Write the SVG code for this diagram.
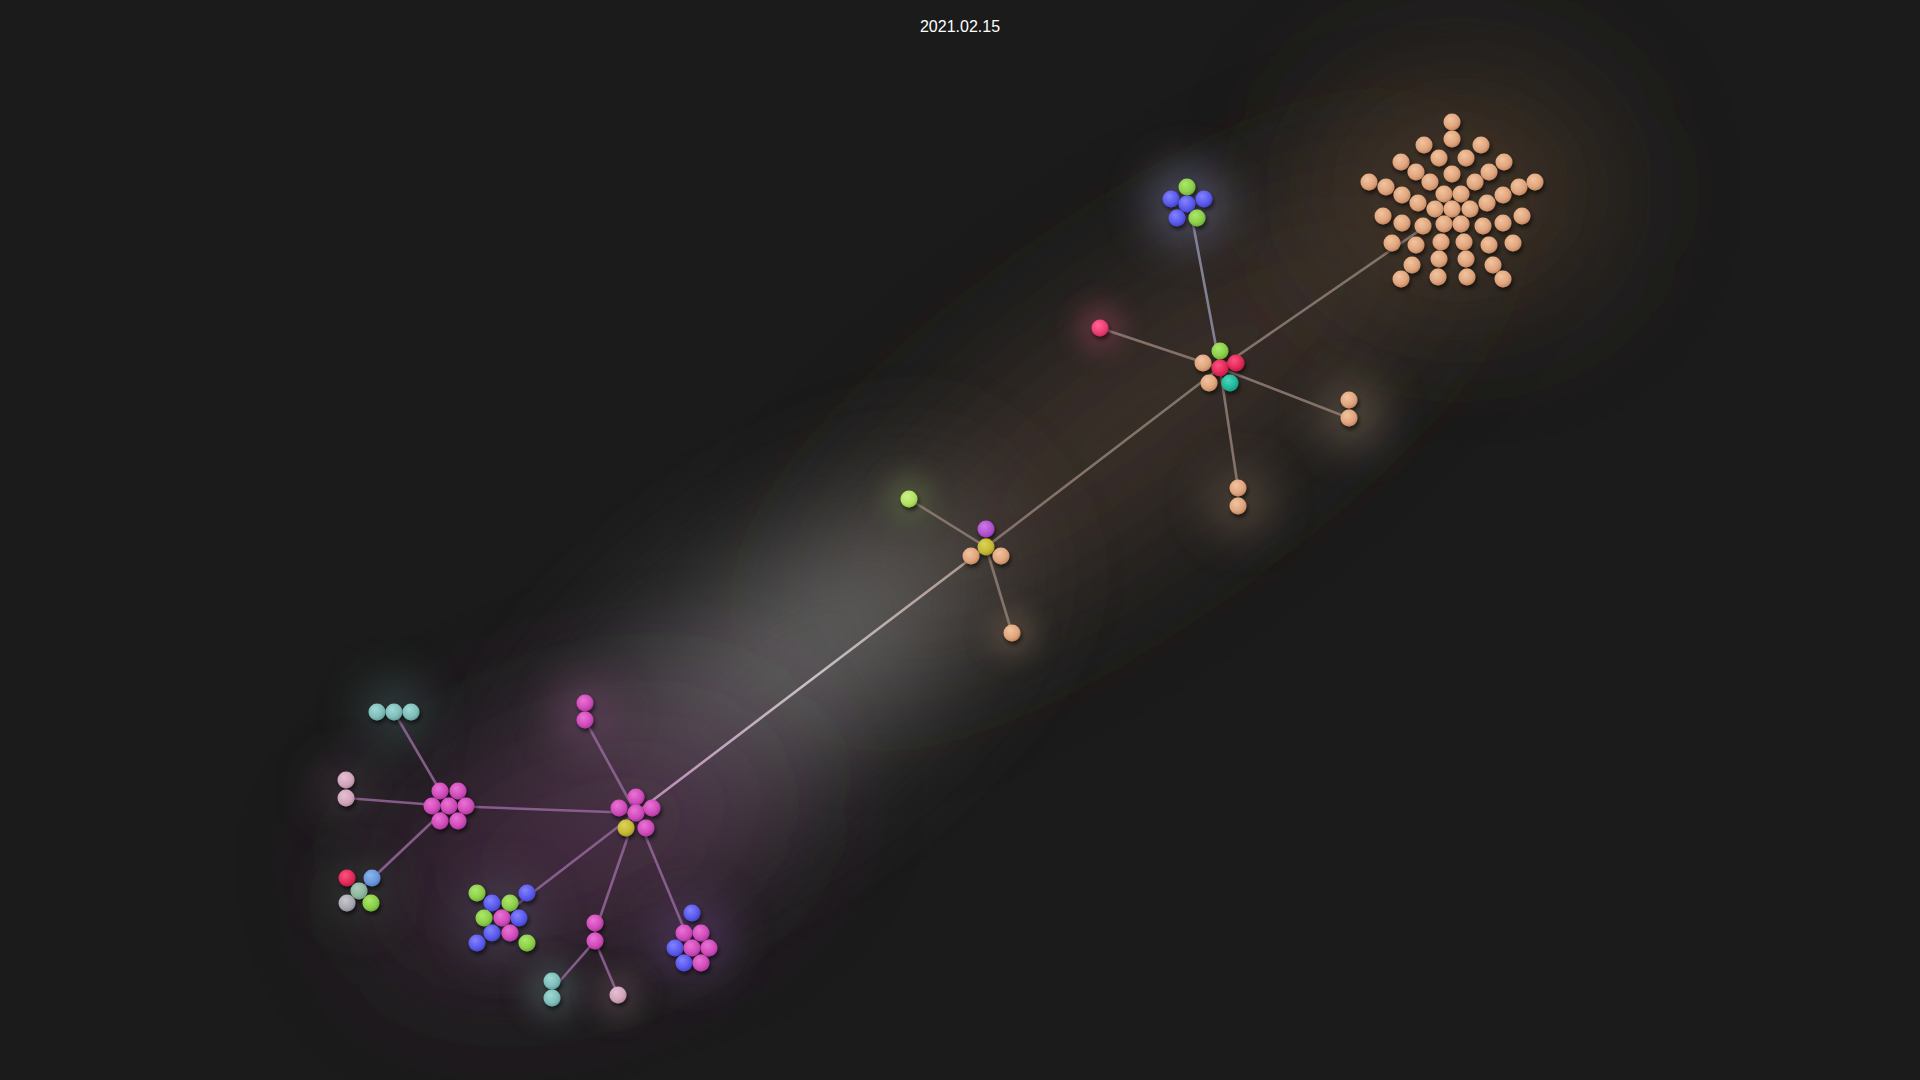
<svg xmlns="http://www.w3.org/2000/svg" width="1920" height="1080" viewBox="0 0 1920 1080">
<defs>
<style>
.bg{fill:#1b1b1b}
.edge{fill:none;stroke-width:2.6;stroke-linecap:round}
.em{stroke:#94669a;stroke-opacity:.85}
.ew{stroke:#8c7a70;stroke-opacity:.9}
.eb{stroke:#8a8aa0;stroke-opacity:.9}
.node{filter:url(#ds)}
.o{fill:url(#go)}.m{fill:url(#gm)}.b{fill:url(#gb)}.g{fill:url(#gg)}.t{fill:url(#gt)}
.pl{fill:url(#gpl)}.r{fill:url(#gr)}.hp{fill:url(#ghp)}.y{fill:url(#gy)}.p{fill:url(#gp)}
.l{fill:url(#gl)}.tb{fill:url(#gtb)}.gy{fill:url(#ggy)}.gn{fill:url(#ggn)}.sb{fill:url(#gsb)}
.date{font-family:"Liberation Sans",Arial,sans-serif;font-size:16px;fill:#ffffff}
</style>
<filter id="ds" x="-50%" y="-50%" width="200%" height="200%">
<feDropShadow dx="1.5" dy="3" stdDeviation="2" flood-color="#000" flood-opacity="0.6"/>
</filter>
<filter id="big" filterUnits="userSpaceOnUse" x="0" y="0" width="1920" height="1080"><feGaussianBlur stdDeviation="70"/></filter>
<filter id="mid" filterUnits="userSpaceOnUse" x="0" y="0" width="1920" height="1080"><feGaussianBlur stdDeviation="22"/></filter>
<filter id="sm" filterUnits="userSpaceOnUse" x="0" y="0" width="1920" height="1080"><feGaussianBlur stdDeviation="12"/></filter>
<radialGradient id="go" cx="0.42" cy="0.38" r="0.62" fx="0.38" fy="0.32"><stop offset="0" stop-color="#f2c4a0"/><stop offset="0.7" stop-color="#e0a67e"/><stop offset="1" stop-color="#c48862"/></radialGradient>
<radialGradient id="gm" cx="0.42" cy="0.38" r="0.62" fx="0.38" fy="0.32"><stop offset="0" stop-color="#ea74d6"/><stop offset="0.7" stop-color="#d24cbc"/><stop offset="1" stop-color="#b03a9e"/></radialGradient>
<radialGradient id="gb" cx="0.42" cy="0.38" r="0.62" fx="0.38" fy="0.32"><stop offset="0" stop-color="#8484fc"/><stop offset="0.7" stop-color="#5a5aee"/><stop offset="1" stop-color="#4646cc"/></radialGradient>
<radialGradient id="gg" cx="0.42" cy="0.38" r="0.62" fx="0.38" fy="0.32"><stop offset="0" stop-color="#ade86c"/><stop offset="0.7" stop-color="#8ccf4a"/><stop offset="1" stop-color="#70b034"/></radialGradient>
<radialGradient id="gt" cx="0.42" cy="0.38" r="0.62" fx="0.38" fy="0.32"><stop offset="0" stop-color="#a2d8d4"/><stop offset="0.7" stop-color="#80bfbc"/><stop offset="1" stop-color="#67a3a0"/></radialGradient>
<radialGradient id="gpl" cx="0.42" cy="0.38" r="0.62" fx="0.38" fy="0.32"><stop offset="0" stop-color="#e6c0d4"/><stop offset="0.7" stop-color="#d2a6bc"/><stop offset="1" stop-color="#b68ca2"/></radialGradient>
<radialGradient id="gr" cx="0.42" cy="0.38" r="0.62" fx="0.38" fy="0.32"><stop offset="0" stop-color="#ff5480"/><stop offset="0.7" stop-color="#e22a5a"/><stop offset="1" stop-color="#c01c48"/></radialGradient>
<radialGradient id="ghp" cx="0.42" cy="0.38" r="0.62" fx="0.38" fy="0.32"><stop offset="0" stop-color="#ff6894"/><stop offset="0.7" stop-color="#ee3e78"/><stop offset="1" stop-color="#cc2c60"/></radialGradient>
<radialGradient id="gy" cx="0.42" cy="0.38" r="0.62" fx="0.38" fy="0.32"><stop offset="0" stop-color="#dcd45a"/><stop offset="0.7" stop-color="#c6b934"/><stop offset="1" stop-color="#a89c24"/></radialGradient>
<radialGradient id="gp" cx="0.42" cy="0.38" r="0.62" fx="0.38" fy="0.32"><stop offset="0" stop-color="#cc7ae4"/><stop offset="0.7" stop-color="#b452d2"/><stop offset="1" stop-color="#9440b4"/></radialGradient>
<radialGradient id="gl" cx="0.42" cy="0.38" r="0.62" fx="0.38" fy="0.32"><stop offset="0" stop-color="#cef28a"/><stop offset="0.7" stop-color="#b4e262"/><stop offset="1" stop-color="#98c848"/></radialGradient>
<radialGradient id="gtb" cx="0.42" cy="0.38" r="0.62" fx="0.38" fy="0.32"><stop offset="0" stop-color="#4cd6bc"/><stop offset="0.7" stop-color="#22b89c"/><stop offset="1" stop-color="#189a80"/></radialGradient>
<radialGradient id="ggy" cx="0.42" cy="0.38" r="0.62" fx="0.38" fy="0.32"><stop offset="0" stop-color="#c8c8ce"/><stop offset="0.7" stop-color="#a9a9b0"/><stop offset="1" stop-color="#8e8e9c"/></radialGradient>
<radialGradient id="ggn" cx="0.42" cy="0.38" r="0.62" fx="0.38" fy="0.32"><stop offset="0" stop-color="#aacebc"/><stop offset="0.7" stop-color="#90b6a0"/><stop offset="1" stop-color="#789e88"/></radialGradient>
<radialGradient id="gsb" cx="0.42" cy="0.38" r="0.62" fx="0.38" fy="0.32"><stop offset="0" stop-color="#8cb6ee"/><stop offset="0.7" stop-color="#6a98dc"/><stop offset="1" stop-color="#5480c4"/></radialGradient>
<linearGradient id="mainline" gradientUnits="userSpaceOnUse" x1="636" y1="813" x2="986" y2="547"><stop offset="0" stop-color="#b88ab4"/><stop offset="0.5" stop-color="#c8c0c4"/><stop offset="1" stop-color="#a89488"/></linearGradient>
</defs>

<rect class="bg" x="0" y="0" width="1920" height="1080"/>

<g id="glows">
<ellipse cx="1130" cy="420" rx="390" ry="100" fill="#3c322b" opacity="0.95" transform="rotate(-36 1130 420)" filter="url(#big)"/>
<ellipse cx="1460" cy="190" rx="140" ry="110" fill="#4c3b2c" opacity="0.85" filter="url(#big)"/>
<ellipse cx="770" cy="680" rx="250" ry="85" fill="#727272" opacity="0.9" transform="rotate(-37 770 680)" filter="url(#big)"/>
<ellipse cx="580" cy="840" rx="210" ry="105" fill="#4a2a44" opacity="0.85" transform="rotate(-20 580 840)" filter="url(#big)"/>
<circle cx="1188" cy="205" r="40" fill="#6a6a88" opacity="0.6" filter="url(#mid)"/>
<circle cx="1100" cy="328" r="24" fill="#7a3a4a" opacity="0.6" filter="url(#sm)"/>
<circle cx="1352" cy="414" r="32" fill="#7a6a58" opacity="0.6" filter="url(#mid)"/>
<circle cx="1240" cy="502" r="32" fill="#6a5a4a" opacity="0.6" filter="url(#mid)"/>
<circle cx="909" cy="499" r="24" fill="#5a6a40" opacity="0.55" filter="url(#sm)"/>
<circle cx="1012" cy="633" r="24" fill="#6a5a4a" opacity="0.5" filter="url(#sm)"/>
<circle cx="585" cy="712" r="30" fill="#7a4a72" opacity="0.55" filter="url(#mid)"/>
<circle cx="394" cy="712" r="34" fill="#3e5654" opacity="0.55" filter="url(#mid)"/>
<circle cx="346" cy="789" r="28" fill="#4e4048" opacity="0.55" filter="url(#mid)"/>
<circle cx="359" cy="891" r="32" fill="#3e4440" opacity="0.55" filter="url(#mid)"/>
<circle cx="502" cy="918" r="42" fill="#484858" opacity="0.55" filter="url(#mid)"/>
<circle cx="692" cy="940" r="40" fill="#5a3a6a" opacity="0.65" filter="url(#mid)"/>
<circle cx="552" cy="990" r="28" fill="#4a5a5a" opacity="0.55" filter="url(#sm)"/>
<circle cx="618" cy="995" r="24" fill="#5a4850" opacity="0.55" filter="url(#sm)"/>
</g>

<g id="connectors">
<line class="edge ew" x1="1423" y1="228" x2="1220" y2="368"/>
<line class="edge eb" x1="1192" y1="218" x2="1220" y2="368"/>
<line class="edge ew" x1="1100" y1="328" x2="1220" y2="368"/>
<line class="edge ew" x1="1220" y1="368" x2="1349" y2="418"/>
<line class="edge ew" x1="1220" y1="368" x2="1238" y2="488"/>
<line class="edge ew" x1="1220" y1="368" x2="986" y2="547"/>
<line class="edge ew" x1="909" y1="499" x2="986" y2="547"/>
<line class="edge ew" x1="986" y1="547" x2="1012" y2="633"/>
<line class="edge" stroke="url(#mainline)" x1="636" y1="813" x2="986" y2="547"/>
<line class="edge em" x1="636" y1="813" x2="449" y2="806"/>
<line class="edge em" x1="636" y1="813" x2="585" y2="720"/>
<line class="edge em" x1="636" y1="813" x2="510" y2="910"/>
<line class="edge em" x1="636" y1="813" x2="595" y2="932"/>
<line class="edge em" x1="636" y1="813" x2="692" y2="948"/>
<line class="edge em" x1="595" y1="941" x2="552" y2="990"/>
<line class="edge em" x1="595" y1="941" x2="618" y2="995"/>
<line class="edge em" x1="449" y1="806" x2="394" y2="712"/>
<line class="edge em" x1="449" y1="806" x2="346" y2="798"/>
<line class="edge em" x1="449" y1="806" x2="359" y2="891"/>
</g>

<g id="n-orange-cluster" class="node">
<circle class="o" cx="1452" cy="122" r="8.5"/><circle class="o" cx="1452" cy="139" r="8.5"/>
<circle class="o" cx="1424" cy="145" r="8.5"/><circle class="o" cx="1481" cy="145" r="8.5"/>
<circle class="o" cx="1401" cy="162" r="8.5"/><circle class="o" cx="1439" cy="158" r="8.5"/><circle class="o" cx="1466" cy="158" r="8.5"/><circle class="o" cx="1504" cy="162" r="8.5"/>
<circle class="o" cx="1416" cy="172" r="8.5"/><circle class="o" cx="1452" cy="174" r="8.5"/><circle class="o" cx="1489" cy="172" r="8.5"/>
<circle class="o" cx="1369" cy="182" r="8.5"/><circle class="o" cx="1386" cy="187" r="8.5"/><circle class="o" cx="1430" cy="182" r="8.5"/><circle class="o" cx="1475" cy="182" r="8.5"/><circle class="o" cx="1519" cy="187" r="8.5"/><circle class="o" cx="1535" cy="182" r="8.5"/>
<circle class="o" cx="1402" cy="195" r="8.5"/><circle class="o" cx="1444" cy="194" r="8.5"/><circle class="o" cx="1461" cy="194" r="8.5"/><circle class="o" cx="1503" cy="195" r="8.5"/>
<circle class="o" cx="1418" cy="203" r="8.5"/><circle class="o" cx="1435" cy="209" r="8.5"/><circle class="o" cx="1452" cy="209" r="8.5"/><circle class="o" cx="1470" cy="209" r="8.5"/><circle class="o" cx="1487" cy="203" r="8.5"/>
<circle class="o" cx="1383" cy="216" r="8.5"/><circle class="o" cx="1522" cy="216" r="8.5"/>
<circle class="o" cx="1402" cy="223" r="8.5"/><circle class="o" cx="1423" cy="226" r="8.5"/><circle class="o" cx="1444" cy="224" r="8.5"/><circle class="o" cx="1461" cy="224" r="8.5"/><circle class="o" cx="1483" cy="226" r="8.5"/><circle class="o" cx="1503" cy="223" r="8.5"/>
<circle class="o" cx="1392" cy="243" r="8.5"/><circle class="o" cx="1416" cy="245" r="8.5"/><circle class="o" cx="1441" cy="242" r="8.5"/><circle class="o" cx="1464" cy="242" r="8.5"/><circle class="o" cx="1489" cy="245" r="8.5"/><circle class="o" cx="1513" cy="243" r="8.5"/>
<circle class="o" cx="1412" cy="265" r="8.5"/><circle class="o" cx="1439" cy="259" r="8.5"/><circle class="o" cx="1466" cy="259" r="8.5"/><circle class="o" cx="1493" cy="265" r="8.5"/>
<circle class="o" cx="1401" cy="279" r="8.5"/><circle class="o" cx="1438" cy="277" r="8.5"/><circle class="o" cx="1467" cy="277" r="8.5"/><circle class="o" cx="1503" cy="279" r="8.5"/>
</g>

<g id="n-blue-cluster" class="node">
<circle class="g" cx="1187" cy="187" r="8.5"/>
<circle class="b" cx="1171" cy="199" r="8.5"/><circle class="b" cx="1204" cy="199" r="8.5"/>
<circle class="b" cx="1187" cy="204" r="8.5"/>
<circle class="b" cx="1177" cy="218" r="8.5"/><circle class="g" cx="1197" cy="218" r="8.5"/>
</g>

<g id="n-pink" class="node"><circle class="hp" cx="1100" cy="328" r="8.5"/></g>

<g id="n-hub" class="node">
<circle class="g" cx="1220" cy="351" r="8.5"/>
<circle class="o" cx="1203" cy="363" r="8.5"/><circle class="r" cx="1236" cy="363" r="8.5"/>
<circle class="r" cx="1220" cy="368" r="8.5"/>
<circle class="o" cx="1209" cy="383" r="8.5"/><circle class="tb" cx="1230" cy="383" r="8.5"/>
</g>

<g id="n-right-pair" class="node"><circle class="o" cx="1349" cy="400" r="8.5"/><circle class="o" cx="1349" cy="418" r="8.5"/></g>
<g id="n-bottom-pair" class="node"><circle class="o" cx="1238" cy="488" r="8.5"/><circle class="o" cx="1238" cy="506" r="8.5"/></g>

<g id="n-lime" class="node"><circle class="l" cx="909" cy="499" r="8.5"/></g>
<g id="n-mid" class="node">
<circle class="p" cx="986" cy="529" r="8.5"/>
<circle class="y" cx="986" cy="547" r="8.5"/>
<circle class="o" cx="971" cy="556" r="8.5"/><circle class="o" cx="1001" cy="556" r="8.5"/>
</g>
<g id="n-mid-orange" class="node"><circle class="o" cx="1012" cy="633" r="8.5"/></g>

<g id="n-top-magenta-pair" class="node"><circle class="m" cx="585" cy="703" r="8.5"/><circle class="m" cx="585" cy="720" r="8.5"/></g>

<g id="n-cluster-b" class="node">
<circle class="m" cx="636" cy="797" r="8.5"/>
<circle class="m" cx="619" cy="808" r="8.5"/><circle class="m" cx="652" cy="808" r="8.5"/>
<circle class="m" cx="636" cy="813" r="8.5"/>
<circle class="y" cx="626" cy="828" r="8.5"/><circle class="m" cx="646" cy="828" r="8.5"/>
</g>

<g id="n-teal-trio" class="node"><circle class="t" cx="377" cy="712" r="8.5"/><circle class="t" cx="394" cy="712" r="8.5"/><circle class="t" cx="411" cy="712" r="8.5"/></g>
<g id="n-pink-pair" class="node"><circle class="pl" cx="346" cy="780" r="8.5"/><circle class="pl" cx="346" cy="798" r="8.5"/></g>

<g id="n-cluster-a" class="node">
<circle class="m" cx="440" cy="791" r="8.5"/><circle class="m" cx="458" cy="791" r="8.5"/>
<circle class="m" cx="432" cy="806" r="8.5"/><circle class="m" cx="449" cy="806" r="8.5"/><circle class="m" cx="466" cy="806" r="8.5"/>
<circle class="m" cx="440" cy="821" r="8.5"/><circle class="m" cx="458" cy="821" r="8.5"/>
</g>

<g id="n-cluster-c" class="node">
<circle class="r" cx="347" cy="878" r="8.5"/><circle class="sb" cx="372" cy="878" r="8.5"/>
<circle class="gn" cx="359" cy="891" r="8.5"/>
<circle class="gy" cx="347" cy="903" r="8.5"/><circle class="g" cx="371" cy="903" r="8.5"/>
</g>

<g id="n-cluster-d" class="node">
<circle class="g" cx="477" cy="893" r="8.5"/><circle class="b" cx="527" cy="893" r="8.5"/>
<circle class="b" cx="492" cy="903" r="8.5"/><circle class="g" cx="510" cy="903" r="8.5"/>
<circle class="g" cx="484" cy="918" r="8.5"/><circle class="m" cx="502" cy="918" r="8.5"/><circle class="b" cx="519" cy="918" r="8.5"/>
<circle class="b" cx="492" cy="933" r="8.5"/><circle class="m" cx="510" cy="933" r="8.5"/>
<circle class="b" cx="477" cy="943" r="8.5"/><circle class="g" cx="527" cy="943" r="8.5"/>
</g>

<g id="n-pair-e" class="node"><circle class="m" cx="595" cy="923" r="8.5"/><circle class="m" cx="595" cy="941" r="8.5"/></g>
<g id="n-teal-pair" class="node"><circle class="t" cx="552" cy="981" r="8.5"/><circle class="t" cx="552" cy="998" r="8.5"/></g>
<g id="n-pink-single" class="node"><circle class="pl" cx="618" cy="995" r="8.5"/></g>

<g id="n-cluster-f" class="node">
<circle class="b" cx="692" cy="913" r="8.5"/>
<circle class="m" cx="684" cy="933" r="8.5"/><circle class="m" cx="701" cy="933" r="8.5"/>
<circle class="b" cx="675" cy="948" r="8.5"/><circle class="m" cx="692" cy="948" r="8.5"/><circle class="m" cx="709" cy="948" r="8.5"/>
<circle class="b" cx="684" cy="963" r="8.5"/><circle class="m" cx="701" cy="963" r="8.5"/>
</g>

<text class="date" x="960" y="32" text-anchor="middle">2021.02.15</text>
</svg>
